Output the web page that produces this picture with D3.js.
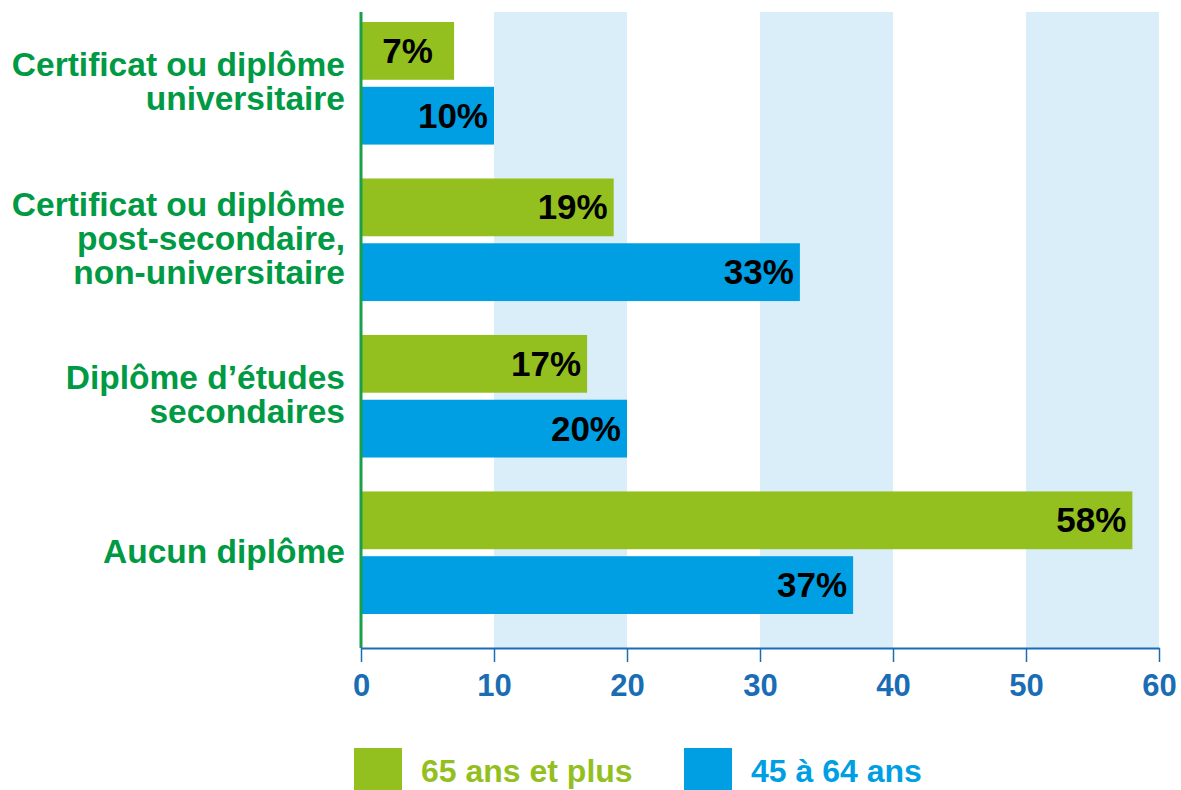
<!DOCTYPE html>
<html>
<head>
<meta charset="utf-8">
<script src="https://cdn.jsdelivr.net/npm/d3@7"></script>
<style>
  body { margin: 0; background: #fff; }
  svg { display: block; font-family: "Liberation Sans", Arial, Helvetica, sans-serif; font-weight: bold; }
</style>
</head>
<body>
<svg width="1181" height="790"></svg>
<script>
// data
const categories = [
  'Certificat ou diplôme universitaire',
  'Certificat ou diplôme post-secondaire, non-universitaire',
  'Diplôme d’études secondaires',
  'Aucun diplôme'
];
const categoryLines = [
  ['Certificat ou diplôme', 'universitaire'],
  ['Certificat ou diplôme', 'post-secondaire,', 'non-universitaire'],
  ['Diplôme d’études', 'secondaires'],
  ['Aucun diplôme']
];
const seriesNames = ['65 ans et plus', '45 à 64 ans'];
const values65plus = [7, 19, 17, 58];
const values45to64 = [10, 33, 20, 37];
const tickValues = [0, 10, 20, 30, 40, 50, 60];
const shadedBands = [[10, 20], [30, 40], [50, 60]];

const colors = { '65 ans et plus': '#93c01f', '45 à 64 ans': '#009fe3' };

const rows = categories.map((c, i) => ({
  category: c,
  lines: categoryLines[i],
  values: [
    { series: seriesNames[0], value: values65plus[i] },
    { series: seriesNames[1], value: values45to64[i] }
  ]
}));

const svg = d3.select('svg');
const plotTop = 12, plotBottom = 648;

const x = d3.scaleLinear().domain([0, 60]).range([361, 1159]);
const y = d3.scaleBand()
  .domain(categories)
  .range([22, 614])
  .paddingInner(0.2166)
  .paddingOuter(0);
const ySub = d3.scaleBand()
  .domain(seriesNames)
  .range([0, y.bandwidth()])
  .paddingInner(0.108);

// shaded bands
svg.append('g')
  .attr('class', 'bands')
  .selectAll('rect')
  .data(shadedBands)
  .enter()
  .append('rect')
  .attr('x', d => x(d[0]))
  .attr('width', d => x(d[1]) - x(d[0]))
  .attr('y', plotTop)
  .attr('height', plotBottom - plotTop)
  .attr('fill', '#d9eef9');

// bars
const groups = svg.append('g')
  .attr('class', 'groups')
  .selectAll('g')
  .data(rows)
  .enter()
  .append('g')
  .attr('transform', d => `translate(0,${y(d.category)})`);

const bars = groups.selectAll('g')
  .data(d => d.values)
  .enter()
  .append('g');

bars.append('rect')
  .attr('x', x(0) + 1)
  .attr('y', d => ySub(d.series))
  .attr('width', d => x(d.value) - x(0) - 1)
  .attr('height', ySub.bandwidth())
  .attr('fill', d => colors[d.series]);

// short bars get a centred label
bars.append('text')
  .attr('x', d => (d.value < 8 ? (x(0) + x(d.value)) / 2 : x(d.value) - 6))
  .attr('text-anchor', d => (d.value < 8 ? 'middle' : 'end'))
  .attr('y', d => ySub(d.series) + ySub.bandwidth() / 2 + 12)
  .attr('font-size', 35)
  .attr('fill', '#000')
  .text(d => d.value + '%');

// category labels
const labels = groups.append('text')
  .attr('text-anchor', 'end')
  .attr('fill', '#009a44')
  .attr('font-size', 33.5);

labels.selectAll('tspan')
  .data(d => d.lines.map((l, i) => ({ l, i, n: d.lines.length })))
  .enter()
  .append('tspan')
  .attr('x', 345)
  .attr('y', d => y.bandwidth() / 2 + 10 + (d.i - (d.n - 1) / 2) * 34)
  .text(d => d.l);

// vertical axis line
svg.append('line')
  .attr('x1', x(0)).attr('x2', x(0))
  .attr('y1', plotTop).attr('y2', plotBottom)
  .attr('stroke', '#1aa04b')
  .attr('stroke-width', 3);

// x axis
const axis = svg.append('g')
  .attr('transform', `translate(0,${plotBottom})`)
  .call(d3.axisBottom(x).tickValues(tickValues).tickSize(14).tickSizeOuter(0).tickPadding(12));

axis.select('.domain').attr('stroke', '#1a6db5').attr('stroke-width', 2);
axis.selectAll('.tick line').attr('stroke', '#1a6db5').attr('stroke-width', 1.5);
axis.selectAll('.tick text')
  .attr('fill', '#1a6db5')
  .attr('font-size', 31)
  .attr('font-weight', 'bold')
  .attr('font-family', '"Liberation Sans", Arial, sans-serif');

// legend
const legend = svg.append('g')
  .attr('class', 'legend')
  .selectAll('g')
  .data(seriesNames)
  .enter()
  .append('g')
  .attr('transform', (d, i) => `translate(${[354, 684][i]},748)`);

legend.append('rect')
  .attr('width', 48)
  .attr('height', 42)
  .attr('fill', d => colors[d]);

legend.append('text')
  .attr('x', 67)
  .attr('y', 34)
  .attr('font-size', 32)
  .attr('fill', d => colors[d])
  .text(d => d);
</script>
</body>
</html>
